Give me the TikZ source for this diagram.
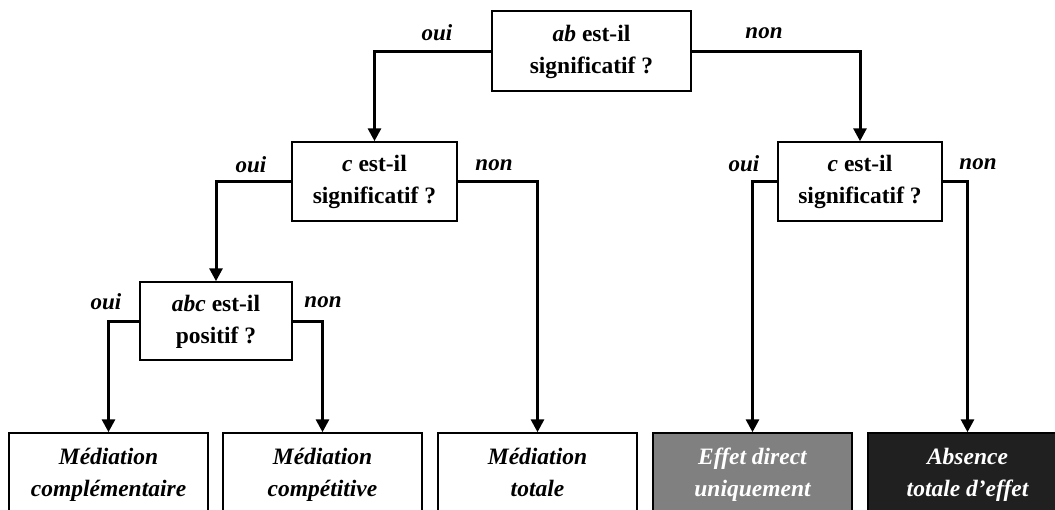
\documentclass[tikz,border=0pt]{standalone}
\usepackage{fontspec}
\setmainfont{Liberation Serif}
\usetikzlibrary{arrows.meta}
\definecolor{midgray}{HTML}{808080}
\definecolor{nearblack}{HTML}{202020}
\begin{document}
\begin{tikzpicture}[x=1pt,y=-1pt,
  question/.style={draw=black,line width=1.5pt,fill=white,align=center,
    inner sep=0pt,font=\fontsize{23.5}{32}\selectfont\bfseries},
  outcome/.style={draw=black,line width=1.5pt,align=center,inner sep=0pt,
    minimum width=199pt,minimum height=82pt,
    font=\fontsize{23.5}{32}\selectfont\bfseries\itshape},
  answer/.style={inner sep=0pt,font=\fontsize{23}{26}\selectfont\bfseries\itshape},
  flow/.style={line width=3pt,-{Triangle[width=13pt,length=13pt]}}]
\useasboundingbox (0,0) rectangle (1055,509);
\clip (0,0) rectangle (1055,509);

% decision boxes
\node[question,minimum width=199pt,minimum height=80pt] (qab) at (591.5,51)
  {\strut{\itshape ab} est-il\\significatif ?\strut};
\node[question,minimum width=165pt,minimum height=79pt] (qcl) at (374.5,181.5)
  {\strut{\itshape c} est-il\\significatif ?\strut};
\node[question,minimum width=164pt,minimum height=79pt] (qcr) at (860,181.5)
  {\strut{\itshape c} est-il\\significatif ?\strut};
\node[question,minimum width=152pt,minimum height=78pt] (qabc) at (216,321)
  {\strut{\itshape abc} est-il\\positif ?\strut};

% outcome boxes
\node[outcome,fill=white] (comp) at (108.5,474) {\strut Médiation\\complémentaire\strut};
\node[outcome,fill=white] (compet) at (322.5,474) {\strut Médiation\\compétitive\strut};
\node[outcome,fill=white] (tot) at (537.5,474) {\strut Médiation\\totale\strut};
\node[outcome,fill=midgray,text=white] (direct) at (752.5,474) {\strut Effet direct\\uniquement\strut};
\node[outcome,fill=nearblack,text=white] (absent) at (967.5,474) {\strut Absence\\totale d’effet\strut};

% connectors
\draw[flow] (qab.west) -| (qcl.north);
\draw[flow] (qab.east) -| (qcr.north);
\draw[flow] (qcl.west) -| (qabc.north);
\draw[flow] (qcl.east) -| (tot.north);
\draw[flow] (qcr.west) -| (direct.north);
\draw[flow] (qcr.east) -| (absent.north);
\draw[flow] (qabc.west) -| (comp.north);
\draw[flow] (qabc.east) -| (compet.north);

% branch labels
\node[answer] (aab1) at (437,33) {oui};
\node[answer] (aab2) at (764,33) {non};
\node[answer] (acl1) at (251,165) {oui};
\node[answer] (acl2) at (494,165) {non};
\node[answer] (acr1) at (744,164) {oui};
\node[answer] (acr2) at (978,164) {non};
\node[answer] (aabc1) at (106,302) {oui};
\node[answer] (aabc2) at (323,302) {non};
\end{tikzpicture}
\end{document}
